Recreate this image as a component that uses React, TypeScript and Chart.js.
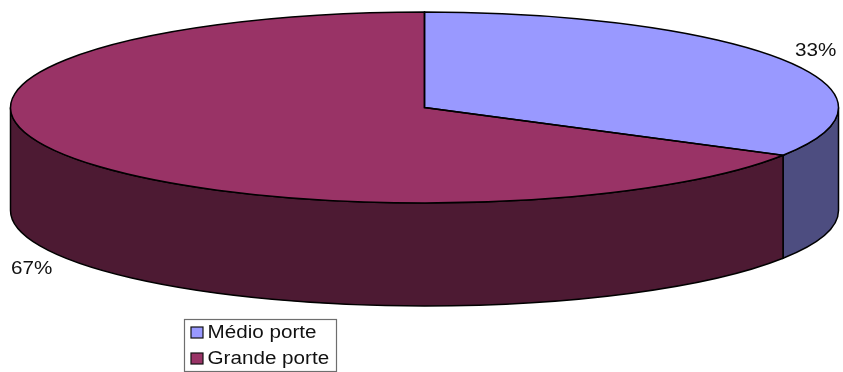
import React, { useEffect, useRef } from "react";
import { Chart, registerables } from "chart.js";

Chart.register(...registerables);

// Company sizes and their shares (one part medium, two parts large).
const categories = ["Médio porte", "Grande porte"];
const shares = [1, 2];

const topColors = ["#9999FF", "#993366"];
const wallColors = ["#4D4D80", "#4D1A33"];

const WIDTH = 843;
const HEIGHT = 372;

// Ellipse of the disc's top face and the height of its rim.
const DISC = { cx: 424.5, cy: 107.5, rx: 414, ry: 95.5, depth: 103 };
const FONT = '17.5px "Liberation Sans", Arial, sans-serif';
const STRETCH = 1.18;
const OUTLINE = 1.5;
const PERCENT_ANCHORS = [
  { x: 795, y: 55.5 },
  { x: 11, y: 274 },
];
const LEGEND = { left: 184.5, top: 319.5, width: 152, height: 52, swatch: 12, rows: [338, 364] };

function stretchedText(ctx: CanvasRenderingContext2D, text: string, x: number, y: number) {
  ctx.save();
  ctx.translate(x, y);
  ctx.scale(STRETCH, 1);
  ctx.font = FONT;
  ctx.fillStyle = "#111";
  ctx.textAlign = "left";
  ctx.textBaseline = "alphabetic";
  ctx.fillText(text, 0, 0);
  ctx.restore();
}

const discPlugin = {
  id: "disc",
  beforeDatasetsDraw(chart: any) {
    const ctx: CanvasRenderingContext2D = chart.ctx;
    const arcs = chart.getDatasetMeta(0).data;
    const { cx, cy, rx, ry, depth } = DISC;

    // The rim: the part of each slice's edge that lies on the front half.
    arcs.forEach((arc: any, i: number) => {
      const a0 = Math.max(arc.startAngle, 0);
      const a1 = Math.min(arc.endAngle, Math.PI);
      if (a1 <= a0) return;
      ctx.save();
      ctx.beginPath();
      ctx.ellipse(cx, cy, rx, ry, 0, a0, a1);
      ctx.ellipse(cx, cy + depth, rx, ry, 0, a1, a0, true);
      ctx.closePath();
      ctx.fillStyle = wallColors[i];
      ctx.fill();
      ctx.lineWidth = OUTLINE;
      ctx.strokeStyle = "#000";
      ctx.stroke();
      ctx.restore();
    });

    // Flatten the library's circular pie into the top face.
    const first = arcs[0];
    const k = 1 / first.outerRadius;
    ctx.save();
    ctx.translate(cx, cy);
    ctx.scale(rx * k, ry * k);
    ctx.translate(-first.x, -first.y);
  },
  afterDatasetsDraw(chart: any) {
    const ctx: CanvasRenderingContext2D = chart.ctx;
    ctx.restore();
    const arcs = chart.getDatasetMeta(0).data;
    const { cx, cy, rx, ry } = DISC;

    // Slice outlines are stroked unflattened so the line weight stays even.
    arcs.forEach((arc: any) => {
      ctx.save();
      ctx.beginPath();
      ctx.moveTo(cx, cy);
      ctx.ellipse(cx, cy, rx, ry, 0, arc.startAngle, arc.endAngle);
      ctx.closePath();
      ctx.lineWidth = OUTLINE;
      ctx.strokeStyle = "#000";
      ctx.stroke();
      ctx.restore();
    });

    // Percentage labels.
    const total = shares.reduce((sum, v) => sum + v, 0);
    shares.forEach((v, i) => {
      const a = PERCENT_ANCHORS[i];
      stretchedText(ctx, `${Math.round((v / total) * 100)}%`, a.x, a.y);
    });

    // Legend box.
    ctx.save();
    ctx.strokeStyle = "#6e6e6e";
    ctx.lineWidth = 1.2;
    ctx.fillStyle = "#fff";
    ctx.fillRect(LEGEND.left, LEGEND.top, LEGEND.width, LEGEND.height);
    ctx.strokeRect(LEGEND.left, LEGEND.top, LEGEND.width, LEGEND.height);
    categories.forEach((name, i) => {
      const base = LEGEND.rows[i];
      ctx.fillStyle = topColors[i];
      ctx.fillRect(191, base - 11, LEGEND.swatch, LEGEND.swatch - 1);
      ctx.strokeStyle = "#111";
      ctx.strokeRect(191, base - 11, LEGEND.swatch, LEGEND.swatch - 1);
      stretchedText(ctx, name, 207.5, base);
    });
    ctx.restore();
  },
};

export default function App() {
  const canvasRef = useRef<HTMLCanvasElement | null>(null);

  useEffect(() => {
    const chart = new Chart(canvasRef.current as HTMLCanvasElement, {
      type: "pie",
      data: {
        labels: categories,
        datasets: [
          {
            data: shares,
            backgroundColor: topColors,
            borderWidth: 0,
            clip: false,
          } as any,
        ],
      },
      options: {
        animation: false,
        responsive: false,
        events: [],
        plugins: { legend: { display: false }, tooltip: { enabled: false }, title: { display: false } },
      },
      plugins: [discPlugin],
    });
    return () => chart.destroy();
  }, []);

  return (
    <div style={{ position: "absolute", left: 0, top: 0, width: WIDTH, height: HEIGHT, background: "#fff" }}>
      <canvas ref={canvasRef} width={WIDTH} height={HEIGHT} style={{ display: "block" }} />
    </div>
  );
}
